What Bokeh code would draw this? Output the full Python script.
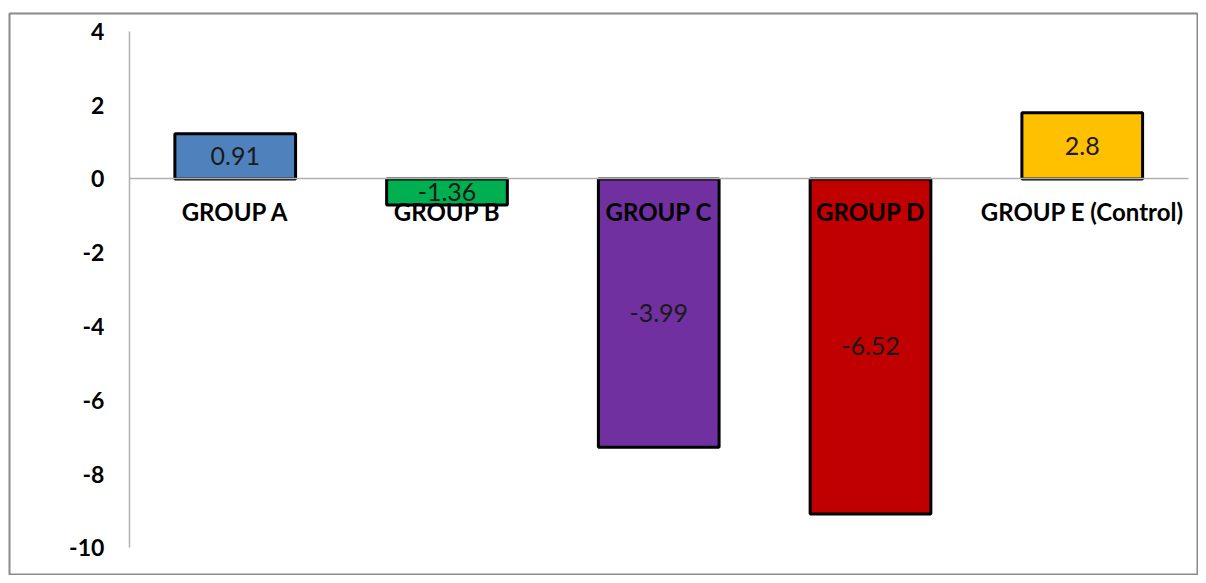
from bokeh.plotting import figure
from bokeh.models import ColumnDataSource, FixedTicker, LinearAxis
from bokeh.core.properties import value
from bokeh.embed import file_html
from bokeh.resources import INLINE

categories = ["GROUP A", "GROUP B", "GROUP C", "GROUP D", "GROUP E (Control)"]
bar_values = [1.22, -0.71, -7.27, -9.08, 1.79]
label_texts = ["0.91", "-1.36", "-3.99", "-6.52", "2.8"]
colors = ["#4f81bd", "#00b050", "#7030a0", "#c00000", "#ffc000"]
y_ticks = [-10, -8, -6, -4, -2, 0, 2, 4]
y_tick_labels = ["-10", "-8", "-6", "-4", "-2", "0", "2", "4"]

xs = list(range(len(categories)))
src = ColumnDataSource(dict(
    x=xs, top=bar_values, color=colors, txt=label_texts,
    mid=[v / 2 for v in bar_values],
))

p = figure(width=1198, height=575, output_backend="svg", toolbar_location=None,
           x_range=(-1.066, 4.549), y_range=(-10.748, 4.482),
           x_axis_location=None, y_axis_location=None,
           min_border_left=9, min_border_top=13, min_border_right=0, min_border_bottom=0)
p.background_fill_color = "white"
p.border_fill_color = "white"
p.outline_line_color = "#8a8a8a"
p.outline_line_width = 2
p.xgrid.visible = False
p.ygrid.visible = False

p.vbar(x="x", top="top", bottom=0, width=0.57, fill_color="color",
       line_color="#000000", line_width=3, source=src)

p.text(x="x", y="mid", text="txt", source=src, text_align="center",
       text_baseline="middle", text_font=value("Lato"), text_font_size="25px",
       text_color="#1a1a1a")

yax = LinearAxis(ticker=FixedTicker(ticks=y_ticks), fixed_location=-0.5,
                 bounds=(-10, 4),
                 major_label_overrides={t: s for t, s in zip(y_ticks, y_tick_labels)})
yax.axis_line_color = "#b0b0b0"
yax.axis_line_width = 1.5
yax.major_tick_line_color = None
yax.minor_tick_line_color = None
yax.major_tick_in = 0
yax.major_tick_out = 0
yax.major_label_standoff = 25
yax.major_label_text_font = "Lato"
yax.major_label_text_font_style = "bold"
yax.major_label_text_font_size = "23px"
yax.major_label_text_color = "#000000"
p.add_layout(yax, "left")

xax = LinearAxis(ticker=FixedTicker(ticks=xs), fixed_location=0,
                 bounds=(-0.5, 4.5),
                 major_label_overrides={i: c for i, c in zip(xs, categories)})
xax.axis_line_color = "#b0b0b0"
xax.axis_line_width = 1.5
xax.major_tick_line_color = None
xax.minor_tick_line_color = None
xax.major_tick_in = 0
xax.major_tick_out = 0
xax.major_label_standoff = 18
xax.major_label_text_font = "Lato"
xax.major_label_text_font_style = "bold"
xax.major_label_text_font_size = "24px"
xax.major_label_text_color = "#000000"
p.add_layout(xax, "below")

open("out.html", "w").write(file_html(p, INLINE))
